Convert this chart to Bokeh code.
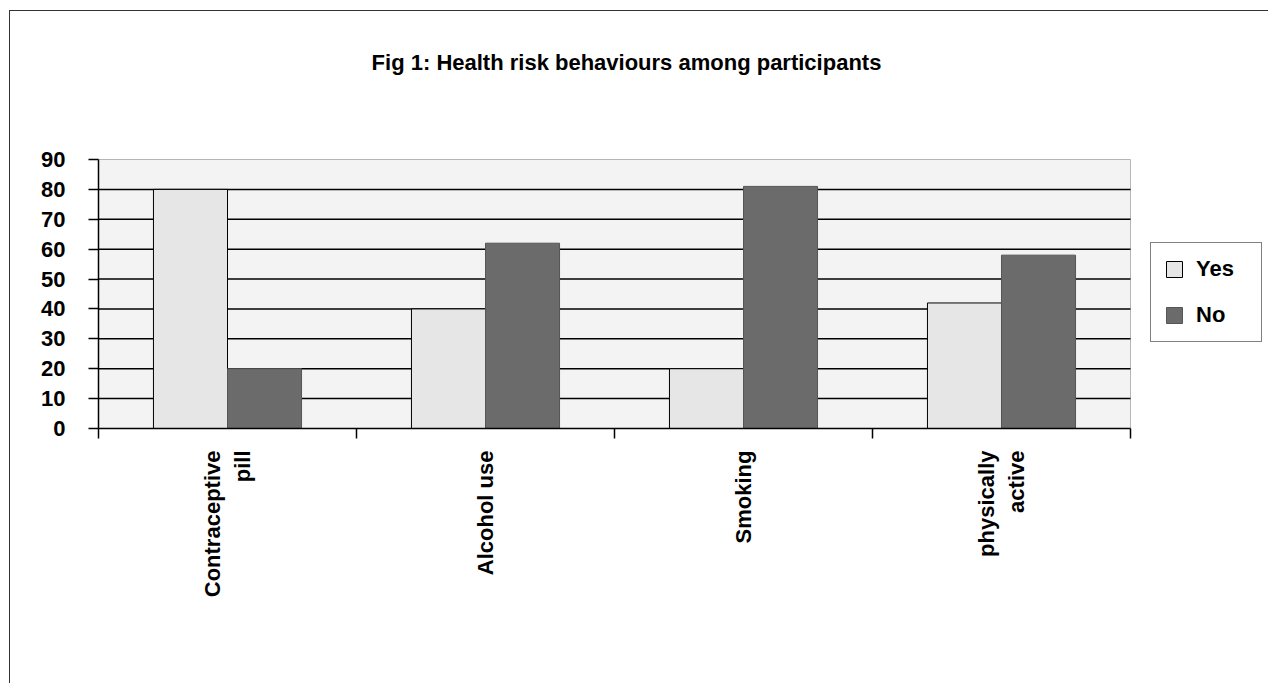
import numpy as np
from bokeh.plotting import figure
from bokeh.models import ColumnDataSource, FixedTicker, Range1d, Legend, LegendItem, Label
from bokeh.embed import file_html
from bokeh.resources import INLINE

categories = ["Contraceptive\npill", "Alcohol use", "Smoking", "physically\nactive"]
yes_values = [80, 40, 20, 42]
no_values = [20, 62, 81, 58]
y_ticks = [0, 10, 20, 30, 40, 50, 60, 70, 80, 90]
title_text = "Fig 1: Health risk behaviours among participants"

FONT = "Liberation Sans"
LIGHT = "#e6e6e6"
DARK = "#6b6b6b"
BAR_W = 0.287

n = len(categories)
y_max = y_ticks[-1]

# pixel layout
FRAME_W, FRAME_H = 1170, 407      # drawing area (includes room for title and legend)
PLOT_W, PLOT_H = 1032, 269        # grey chart area inside it

idx = np.arange(n)
centers = idx + 0.5
src = ColumnDataSource(dict(
    yes_x=centers - BAR_W / 2,
    no_x=centers + BAR_W / 2,
    yes=yes_values,
    no=no_values,
))

p = figure(frame_width=FRAME_W, frame_height=FRAME_H, output_backend="svg", toolbar_location=None,
           x_range=Range1d(0, n * FRAME_W / PLOT_W), y_range=Range1d(0, y_max * FRAME_H / PLOT_H),
           min_border_left=88, min_border_right=0, min_border_top=10,
           min_border_bottom=255)
p.styles = {"border-left": "1px solid #333333", "border-top": "1px solid #333333",
            "margin-left": "9px", "margin-top": "10px"}

p.title.text = ""
p.background_fill_color = "white"
p.border_fill_color = "white"
p.outline_line_color = None
p.xgrid.grid_line_color = None
p.ygrid.grid_line_color = None

# grey chart area
p.quad(left=0, right=n, bottom=0, top=y_max, fill_color="#f3f3f3", line_color="#b5b5b5", line_width=1)
# horizontal gridlines
grid_y = y_ticks[1:-1]
p.segment(x0=[0] * len(grid_y), x1=[n] * len(grid_y), y0=grid_y, y1=grid_y,
          line_color="black", line_width=1.5)

r_yes = p.vbar(x="yes_x", top="yes", width=BAR_W, bottom=0, source=src,
               fill_color=LIGHT, line_color="black", line_width=1)
r_no = p.vbar(x="no_x", top="no", width=BAR_W, bottom=0, source=src,
              fill_color=DARK, line_color="#555555", line_width=1)

# title
title = Label(x=528, y=366, x_units="screen", y_units="screen", text=title_text,
              text_font=FONT, text_font_size="22px", text_font_style="bold",
              text_color="black", text_align="center", text_baseline="middle")
p.add_layout(title)

# y axis
p.yaxis.bounds = (0, y_max)
p.yaxis.ticker = FixedTicker(ticks=y_ticks)
p.yaxis.axis_line_color = "black"
p.yaxis.axis_line_width = 1.5
p.yaxis.major_tick_out = 10
p.yaxis.major_tick_in = 0
p.yaxis.major_tick_line_width = 1.5
p.yaxis.minor_tick_line_color = None
p.yaxis.major_label_text_font = FONT
p.yaxis.major_label_text_font_size = "22px"
p.yaxis.major_label_text_font_style = "bold"
p.yaxis.major_label_text_color = "black"
p.yaxis.major_label_standoff = 23

# x axis: labels at centers, ticks at category boundaries
p.xaxis.bounds = (0, n)
p.xaxis.ticker = FixedTicker(ticks=list(centers), minor_ticks=list(range(n + 1)))
p.xaxis.major_label_overrides = {float(c): lab for c, lab in zip(centers, categories)}
p.xaxis.major_tick_out = 0
p.xaxis.major_tick_in = 0
p.xaxis.minor_tick_out = 10
p.xaxis.minor_tick_in = 0
p.xaxis.minor_tick_line_color = "black"
p.xaxis.minor_tick_line_width = 1.5
p.xaxis.axis_line_color = "black"
p.xaxis.axis_line_width = 1.5
p.xaxis.major_label_orientation = np.pi / 2
p.xaxis.major_label_text_font = FONT
p.xaxis.major_label_text_font_size = "22px"
p.xaxis.major_label_text_font_style = "bold"
p.xaxis.major_label_text_color = "black"
p.xaxis.major_label_standoff = 12

legend = Legend(items=[LegendItem(label="Yes", renderers=[r_yes]),
                       LegendItem(label="No", renderers=[r_no])],
                location=(1052, 86), orientation="vertical")
legend.label_text_font = FONT
legend.label_text_font_size = "22px"
legend.label_text_font_style = "bold"
legend.label_text_color = "black"
legend.border_line_color = "black"
legend.border_line_width = 1.5
legend.background_fill_color = "white"
legend.background_fill_alpha = 1
legend.glyph_width = 20
legend.glyph_height = 20
legend.label_width = 52
legend.spacing = 20
legend.padding = 13
legend.margin = 0
legend.label_standoff = 12
p.add_layout(legend, "center")

open("out.html", "w").write(file_html(p, INLINE))
